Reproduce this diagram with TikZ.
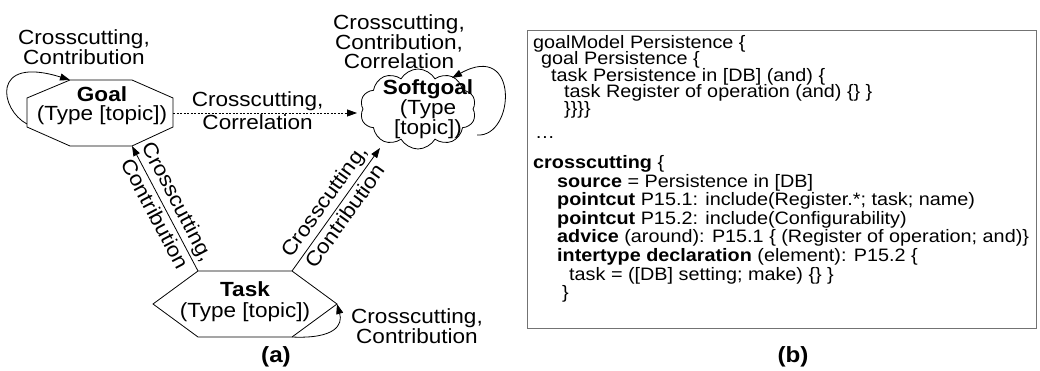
\documentclass[tikz,border=0pt]{standalone}
\usepackage{fontspec}
\setmainfont{Liberation Sans}[FakeStretch=1.1]
\usetikzlibrary{arrows.meta,shapes.symbols}
\begin{document}
\begin{tikzpicture}[x=1pt,y=-1pt,
  lbl/.style={font=\fontsize{20.5}{19}\selectfont, align=center, inner sep=0pt},
  arr/.style={line width=0.8pt, -{Triangle[length=10pt,width=7pt]}},
  shp/.style={line width=0.8pt},
  code/.style={font=\fontsize{18}{17.3}\selectfont, inner sep=0pt, anchor=base west},
  captxt/.style={font=\fontsize{22}{22}\selectfont\bfseries, inner sep=0pt}]
\useasboundingbox (0,0) rectangle (1040,371);
% ---- Goal octagon
\coordinate (g1) at (70,80);
\coordinate (g2) at (132,80);
\coordinate (g3) at (173,98);
\coordinate (g4) at (173,127);
\coordinate (g5) at (132,146);
\coordinate (g6) at (70,146);
\coordinate (g7) at (27,127);
\coordinate (g8) at (27,98);
\coordinate (gR) at (173,113);
\coordinate (gL) at (27,124);
\draw[shp] (g1) -- (g2) -- (g3) -- (g4) -- (g5) -- (g6) -- (g7) -- (g8) -- cycle;
\node[lbl] (goal) at (102,106) {\textbf{Goal}\\(Type [topic])};
% ---- Task hexagon
\coordinate (t1) at (198,271);
\coordinate (t2) at (292,271);
\coordinate (t3) at (337,304);
\coordinate (t4) at (292,337);
\coordinate (t5) at (198,337);
\coordinate (t6) at (153,304);
\draw[shp] (t1) -- (t2) -- (t3) -- (t4) -- (t5) -- (t6) -- cycle;
\node[lbl, font=\fontsize{20.5}{21}\selectfont] (task) at (245,302) {\textbf{Task}\\(Type [topic])};
% ---- Softgoal cloud
\node[cloud, draw, shp, cloud puffs=10, cloud puff arc=120, cloud ignores aspect,
      minimum width=116pt, minimum height=80pt, inner sep=0pt] (soft) at (418,109) {};
\node[lbl, font=\fontsize{20.5}{18.5}\selectfont] (softtxt) at (428,109) {\textbf{Softgoal}\\(Type\\{}[topic])};
\coordinate (sW) at (357,113);
\coordinate (sB) at (380,148);
\coordinate (sR) at (477,135);
\coordinate (sT) at (452,78);
% ---- connectors
\draw[arr, dash pattern=on 2pt off 1.5pt] (gR) -- node[lbl, pos=0.46, above=1.5pt] (dl1) {Crosscutting,} node[lbl, pos=0.46, below=1.5pt] (dl2) {Correlation} (sW);
\draw[arr] (t1) -- node[lbl, sloped, above=3pt] (tg1) {Crosscutting,} node[lbl, sloped, below=3pt] (tg2) {Contribution} (g5);
\draw[arr] (t2) -- node[lbl, sloped, above=3pt] (ts1) {Crosscutting,} node[lbl, sloped, below=3pt] (ts2) {Contribution} (sB);
% self loops
\draw[arr] (gL) .. controls (0,110) and (-10,55) .. (g1);
\node[lbl] (gll) at (84,47) {Crosscutting,\\Contribution};
\draw[arr] (sR) .. controls (515,138) and (520,40) .. (sT);
\node[lbl, font=\fontsize{20.5}{19.5}\selectfont] (sll) at (399,42) {Crosscutting,\\Contribution,\\Correlation};
\draw[arr] (t4) .. controls (335,339) and (343,325) .. (t3);
\node[lbl, anchor=west] (tll) at (351,326) {Crosscutting,\\Contribution};
% ---- captions
\node[captxt] (capa) at (276,357) {(a)};
\node[captxt] (capb) at (793,357) {(b)};
% ---- code box
\draw[black!55, line width=0.8pt] (527,30) rectangle (1036,328);
\node[code] (c1) at (533,48.5) {goalModel Persistence \{};
\node[code] (c2) at (541,65) {goal Persistence \{};
\node[code] (c3) at (551,81.5) {task Persistence in [DB] (and) \{};
\node[code] (c4) at (564,98) {task Register of operation (and) \{\} \}};
\node[code] (c5) at (564,114.5) {\}\}\}\}};
\node[code] (c6) at (535,139) {…};
\node[code] (c7) at (533,169) {\textbf{crosscutting} \{};
\node[code] (c8) at (557,187.5) {\textbf{source} = Persistence in [DB]};
\node[code] (c9) at (557,206) {\textbf{pointcut} P15.1: include(Register.*; task; name)};
\node[code] (c10) at (557,224.5) {\textbf{pointcut} P15.2: include(Configurability)};
\node[code] (c11) at (557,243) {\textbf{advice} (around): P15.1 \{ (Register of operation; and)\}};
\node[code] (c12) at (557,261.5) {\textbf{intertype declaration} (element): P15.2 \{};
\node[code] (c13) at (569,280) {task = ([DB] setting; make) \{\} \}};
\node[code] (c14) at (562,298.5) {\}};
\end{tikzpicture}
\end{document}
